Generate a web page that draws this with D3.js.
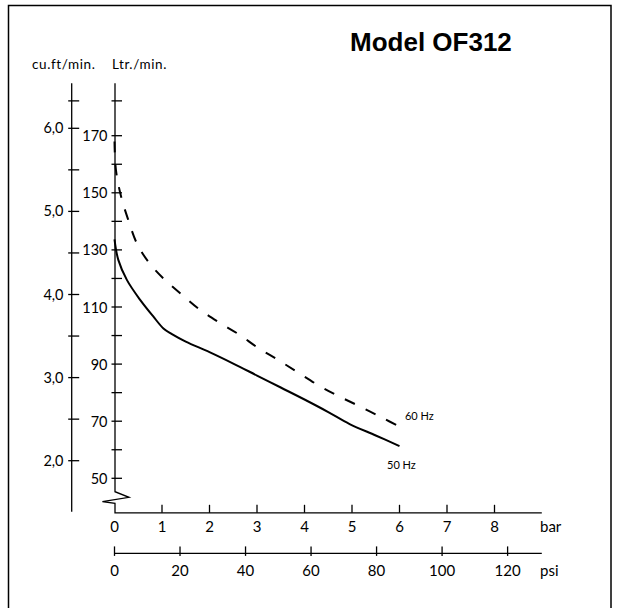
<!DOCTYPE html>
<html>
<head>
<meta charset="utf-8">
<script src="https://cdn.jsdelivr.net/npm/d3@7"></script>
<style>
  html, body { margin: 0; padding: 0; background: #fff; overflow: hidden; }
  svg { display: block; }
  text { font-family: Lato, "Open Sans", sans-serif; fill: #000; }
</style>
</head>
<body>
<svg id="chart" width="619" height="608"></svg>
<script>
// ---------------- data ----------------
const title = "Model OF312";
const barTicks = [0, 1, 2, 3, 4, 5, 6, 7, 8];
const psiTicks = [0, 20, 40, 60, 80, 100, 120];
const ltrLabelTicks = [50, 70, 90, 110, 130, 150, 170];
const ltrMinorTicks = [60, 80, 100, 120, 140, 160, 182.2];
const cuftLabelTicks = [2, 3, 4, 5, 6];
const cuftMinorTicks = [2.5, 3.5, 4.5, 5.5, 6.33];
const cuftLabels = ["2,0", "3,0", "4,0", "5,0", "6,0"];

// 60 Hz (dashed): pressure in bar, flow in Ltr/min
const hz60Bar = [0, 0.03, 0.14, 0.29, 0.47, 0.71, 1.03, 1.4, 1.76, 2.19, 2.61, 3.03, 3.45, 3.87, 4.32, 4.74, 5.2, 5.66, 6.0];
const hz60Flow = [168, 158, 148.6, 140.5, 132.3, 125.9, 120, 114.6, 109.5, 104.7, 100.5, 95.6, 91.4, 87, 82.3, 78.6, 74.9, 71, 68.1];
// 50 Hz (solid)
const hz50Bar = [0, 0.08, 0.26, 0.54, 0.82, 1.03, 1.2, 1.5, 2.0, 2.5, 3.0, 3.5, 4.0, 4.5, 4.95, 5.5, 6.0];
const hz50Flow = [133.7, 126.5, 119.5, 112.5, 106.6, 102.5, 100.6, 97.9, 94.2, 90.2, 86, 81.8, 77.6, 73.2, 69, 65, 61.3];

// ---------------- layout ----------------
const svg = d3.select("#chart");
const x = d3.scaleLinear().domain([0, 8]).range([114.5, 494.5]);
const xPsi = d3.scaleLinear().domain([0, 120]).range([x(0), x(120 / 14.5)]);
const yL = d3.scaleLinear().domain([50, 170]).range([478.3, 135.7]);
const yC = d3.scaleLinear().domain([2, 6]).range([460.7, 128.3]);

const axisX = x(0) + 0.5;   // Ltr axis
const cuftX = 71.7;         // cu.ft axis
const axisTop = 83.3;
const barY = 512.8;
const psiY = 553.4;
const axisRight = 541.8;

// frame
svg.append("rect").attr("x", 8.5).attr("y", 5.5).attr("width", 602.5).attr("height", 640)
  .attr("fill", "none").attr("stroke", "#000").attr("stroke-width", 1.5);

// title
svg.append("text").attr("x", 350).attr("y", 50.5)
  .style("font-family", "'Liberation Sans', Arial, sans-serif")
  .style("font-weight", "bold").style("font-size", "26px")
  .text(title);

// axis titles
svg.append("text").attr("x", 32).attr("y", 68.5).style("font-size", "13.5px")
  .style("letter-spacing", "0.6px").text("cu.ft/min.");
svg.append("text").attr("x", 112).attr("y", 68.5).style("font-size", "13.5px")
  .style("letter-spacing", "0.6px").text("Ltr./min.");

const lineStyle = sel => sel.attr("stroke", "#000").attr("stroke-width", 1.3).attr("fill", "none");

// cu.ft axis
svg.append("line").attr("x1", cuftX).attr("x2", cuftX).attr("y1", axisTop).attr("y2", 511.7).call(lineStyle);
svg.selectAll(".cft").data(cuftLabelTicks.concat(cuftMinorTicks)).enter().append("line")
  .attr("x1", cuftX - 3.5).attr("x2", cuftX + 7.5)
  .attr("y1", d => yC(d)).attr("y2", d => yC(d)).call(lineStyle);
svg.selectAll(".cftl").data(cuftLabelTicks).enter().append("text")
  .attr("x", 63.5).attr("y", d => yC(d) + 5).attr("text-anchor", "end")
  .style("font-size", "14.5px").text((d, i) => cuftLabels[i]);

// Ltr axis with break
const brk = d3.path();
brk.moveTo(axisX, axisTop);
brk.lineTo(axisX, yL(45.3));
brk.lineTo(axisX + 14, yL(45.3) + 5.6);
brk.lineTo(axisX - 12.6, yL(45.3) + 10);
brk.lineTo(axisX, yL(45.3) + 11.6);
brk.lineTo(axisX, barY);
brk.lineTo(axisRight, barY);
svg.append("path").attr("d", brk.toString()).call(lineStyle);

svg.selectAll(".lt").data(ltrLabelTicks.concat(ltrMinorTicks)).enter().append("line")
  .attr("x1", axisX - 3.5).attr("x2", axisX + 7)
  .attr("y1", d => yL(d)).attr("y2", d => yL(d)).call(lineStyle);
svg.selectAll(".ltl").data(ltrLabelTicks).enter().append("text")
  .attr("x", 107.5).attr("y", d => yL(d) + 5.5).attr("text-anchor", "end")
  .style("font-size", "14.5px").text(d => d);

// bar axis ticks
svg.selectAll(".bt").data(barTicks.slice(1)).enter().append("line")
  .attr("x1", d => x(d)).attr("x2", d => x(d)).attr("y1", barY - 8).attr("y2", barY).call(lineStyle);
svg.selectAll(".btl").data(barTicks).enter().append("text")
  .attr("x", d => x(d)).attr("y", 532).attr("text-anchor", "middle")
  .style("font-size", "15px").text(d => d);
svg.append("text").attr("x", 540).attr("y", 532).style("font-size", "15px").text("bar");

// psi axis
svg.append("line").attr("x1", xPsi(0)).attr("x2", axisRight).attr("y1", psiY).attr("y2", psiY).call(lineStyle);
svg.selectAll(".pt").data(psiTicks).enter().append("line")
  .attr("x1", d => xPsi(d)).attr("x2", d => xPsi(d)).attr("y1", psiY - 7).attr("y2", psiY + 2.5).call(lineStyle);
svg.selectAll(".ptl").data(psiTicks).enter().append("text")
  .attr("x", d => xPsi(d)).attr("y", 576).attr("text-anchor", "middle")
  .style("font-size", "15px").text(d => d);
svg.append("text").attr("x", 540).attr("y", 576).style("font-size", "15px").text("psi");

// curves
const line = d3.line().x(d => x(d[0])).y(d => yL(d[1])).curve(d3.curveCatmullRom.alpha(0.5));
const s60 = hz60Bar.map((b, i) => [b, hz60Flow[i]]);
const s50 = hz50Bar.map((b, i) => [b, hz50Flow[i]]);

svg.append("path").attr("d", line(s60)).attr("fill", "none").attr("stroke", "#000")
  .attr("stroke-width", 2).attr("stroke-dasharray", "11,12");
svg.append("path").attr("d", line(s50)).attr("fill", "none").attr("stroke", "#000")
  .attr("stroke-width", 2);

// series labels
svg.append("text").attr("x", x(6.05) + 3).attr("y", yL(68.1) - 7).style("font-size", "11px").text("60 Hz");
svg.append("text").attr("x", x(6.0) - 12.5).attr("y", yL(61.3) + 22.5).style("font-size", "11px").text("50 Hz");
</script>
</body>
</html>
